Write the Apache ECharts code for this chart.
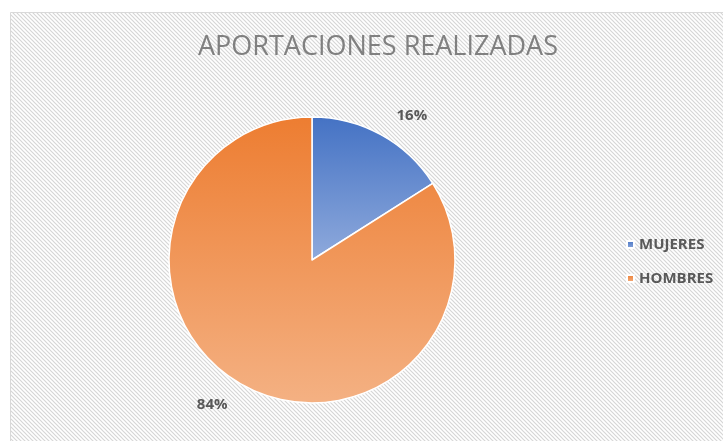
<!DOCTYPE html>
<html>
<head>
<meta charset="utf-8">
<script src="https://cdn.jsdelivr.net/npm/echarts@6/dist/echarts.min.js"></script>
<style>
  html, body { margin: 0; padding: 0; background: #fff; }
  #chart { width: 723px; height: 441px; }
</style>
</head>
<body>
<div id="chart"></div>
<script>
// data
const categories = ['MUJERES', 'HOMBRES'];
const percents = [16, 84];
const topColors = ['#4472C4', '#ED7D31'];
const bottomColors = ['#8FAADC', '#F4B183'];

// diagonal hatch used by the chart area
const makeHatch = () => {
  const c = document.createElement('canvas');
  c.width = 4;
  c.height = 4;
  const ctx = c.getContext('2d');
  ctx.fillStyle = '#ffffff';
  ctx.fillRect(0, 0, 4, 4);
  ctx.strokeStyle = '#d6d6d6';
  ctx.lineWidth = 1.2;
  ctx.beginPath();
  ctx.moveTo(-1, -1);
  ctx.lineTo(5, 5);
  ctx.moveTo(3, -1);
  ctx.lineTo(5, 1);
  ctx.moveTo(-1, 3);
  ctx.lineTo(1, 5);
  ctx.stroke();
  return c;
};

const chart = echarts.init(document.getElementById('chart'));

const options = {
  backgroundColor: '#ffffff',
  animation: false,
  graphic: [
    {
      type: 'rect',
      z: -10,
      silent: true,
      shape: { x: 10.5, y: 12.5, width: 740, height: 460 },
      style: {
        fill: { image: makeHatch(), repeat: 'repeat' },
        stroke: '#d9d9d9',
        lineWidth: 1
      }
    }
  ],
  title: {
    text: 'APORTACIONES REALIZADAS',
    left: 373,
    top: 29,
    textAlign: 'center',
    textStyle: {
      fontFamily: 'Open Sans',
      fontWeight: 'normal',
      fontSize: 27,
      color: '#808080'
    }
  },
  legend: {
    orient: 'vertical',
    left: 621,
    top: 232,
    itemWidth: 7,
    itemHeight: 7,
    itemGap: 19,
    icon: 'rect',
    textStyle: {
      fontFamily: 'Open Sans',
      fontWeight: 'bold',
      fontSize: 15,
      color: '#595959'
    },
    data: categories
  },
  series: [
    {
      name: 'APORTACIONES',
      type: 'pie',
      center: [312, 260],
      radius: 143,
      startAngle: 90,
      clockwise: true,
      silent: true,
      itemStyle: {
        borderColor: '#ffffff',
        borderWidth: 1.5
      },
      label: {
        show: true,
        position: 'outside',
        formatter: '{c}%',
        fontFamily: 'Open Sans',
        fontWeight: 'bold',
        fontSize: 15,
        color: '#595959'
      },
      labelLine: {
        show: false,
        length: 22,
        length2: 0
      },
      data: categories.map((name, i) => ({
        name,
        value: percents[i],
        itemStyle: {
          color: {
            type: 'linear',
            x: 0, y: 0, x2: 0, y2: 1,
            colorStops: [
              { offset: 0, color: topColors[i] },
              { offset: 1, color: bottomColors[i] }
            ]
          }
        }
      }))
    }
  ]
};

chart.setOption(options);
</script>
</body>
</html>
